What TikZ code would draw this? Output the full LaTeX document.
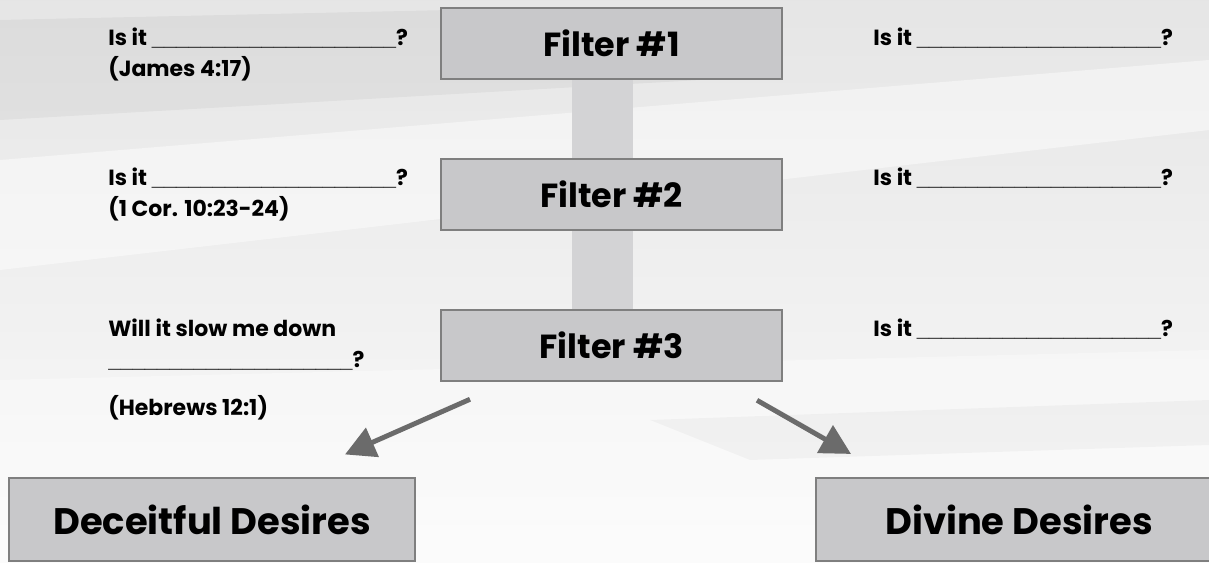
\documentclass[tikz,border=0pt]{standalone}
\usepackage{fontspec}
\setmainfont{Poppins}
\newfontfamily\linefont{Liberation Sans}
\usetikzlibrary{arrows.meta,positioning,calc,backgrounds}
\definecolor{boxfill}{HTML}{C8C8CA}
\definecolor{boxline}{HTML}{7F7F7F}
\definecolor{barfill}{HTML}{D3D3D5}
\definecolor{arrowgray}{HTML}{6B6B6B}
\newcommand{\blankline}[1][19]{{\linefont\foreach \k in {1,...,#1}{\_}}}
\pgfdeclarelayer{backdrop}
\pgfsetlayers{backdrop,background,main}

\begin{document}
\begin{tikzpicture}
\tikzset{
    filterbox/.style={
           rectangle,
           draw=boxline,
           line width=1.2pt,
           fill=boxfill,
           minimum width=6.82cm,
           minimum height=1.42cm,
           font=\bfseries\fontsize{19}{22}\selectfont},
    desirebox/.style={
           rectangle,
           draw=boxline,
           line width=1.2pt,
           fill=boxfill,
           minimum width=8.12cm,
           minimum height=1.66cm,
           font=\bfseries\fontsize{21}{24}\selectfont},
    question/.style={
           rectangle,
           inner sep=0pt,
           align=left,
           anchor=north west,
           font=\bfseries\fontsize{12.5}{17.6}\selectfont},
    % Define arrow style
    arrow/.style= {
           -{Triangle[length=0.6cm,width=0.62cm]},
           line width=2.8pt,
           draw=arrowgray
    }
}
\useasboundingbox (0,0) rectangle (24.18,-11.26);

\node[filterbox] (filter1) at (12.23,-0.87) {Filter \#1};
\node[filterbox,below=1.56cm of filter1] (filter2) {Filter \#2};
\node[filterbox,below=1.56cm of filter2] (filter3) {Filter \#3};

\node[desirebox] (deceitful) at (4.24,-10.39) {Deceitful Desires};
\node[desirebox] (divine) at (20.38,-10.39) {Divine Desires};

\node[question] (askone) at (2.16,-0.55) {Is it \blankline[20]?\\(James 4:17)};
\node[question] (asktwo) at (2.16,-3.36) {Is it \blankline[20]?\\(1 Cor. 10:23-24)};
\node[question] (askthree) at (2.16,-6.38) {Will it slow me down\\\blankline[20]?\\[0.34cm](Hebrews 12:1)};
\node[question] (askfour) at (17.46,-0.55) {Is it \blankline[20]?};
\node[question] (askfive) at (17.46,-3.36) {Is it \blankline[20]?};
\node[question] (asksix) at (17.46,-6.38) {Is it \blankline[20]?};

\coordinate (splitleft) at ($(filter3.south)+(-2.83,-0.34)$);
\coordinate (tipleft) at ($(deceitful.north)+(2.66,0.45)$);
\coordinate (splitright) at ($(filter3.south)+(2.91,-0.36)$);
\coordinate (tipright) at ($(divine.north)+(-3.36,0.46)$);
\draw[arrow] (splitleft) -- (tipleft);
\draw[arrow] (splitright) -- (tipright);

% stem behind the filters
\begin{pgfonlayer}{background}
\fill[barfill] ([xshift=-0.79cm]filter1.south) rectangle ([xshift=0.43cm]filter3.north);
\end{pgfonlayer}
% backdrop
\begin{pgfonlayer}{backdrop}
\shade[top color=black!10,bottom color=black!2] (0,0) rectangle (24.18,-11.26);
\fill[white,opacity=0.45] (0,-3.2) -- (24.18,-1.2) -- (24.18,-2.6) -- (0,-5.4) -- cycle;
\fill[white,opacity=0.35] (0,-7.6) -- (24.18,-7.0) -- (24.18,-11.26) -- (0,-11.26) -- cycle;
\fill[black,opacity=0.04] (0,-0.4) -- (9,-0.2) -- (14,-1.6) -- (0,-2.4) -- cycle;
\fill[black,opacity=0.03] (13,-8.4) -- (24.18,-8.0) -- (24.18,-8.9) -- (15,-9.2) -- cycle;
\end{pgfonlayer}
\end{tikzpicture}
\end{document}
